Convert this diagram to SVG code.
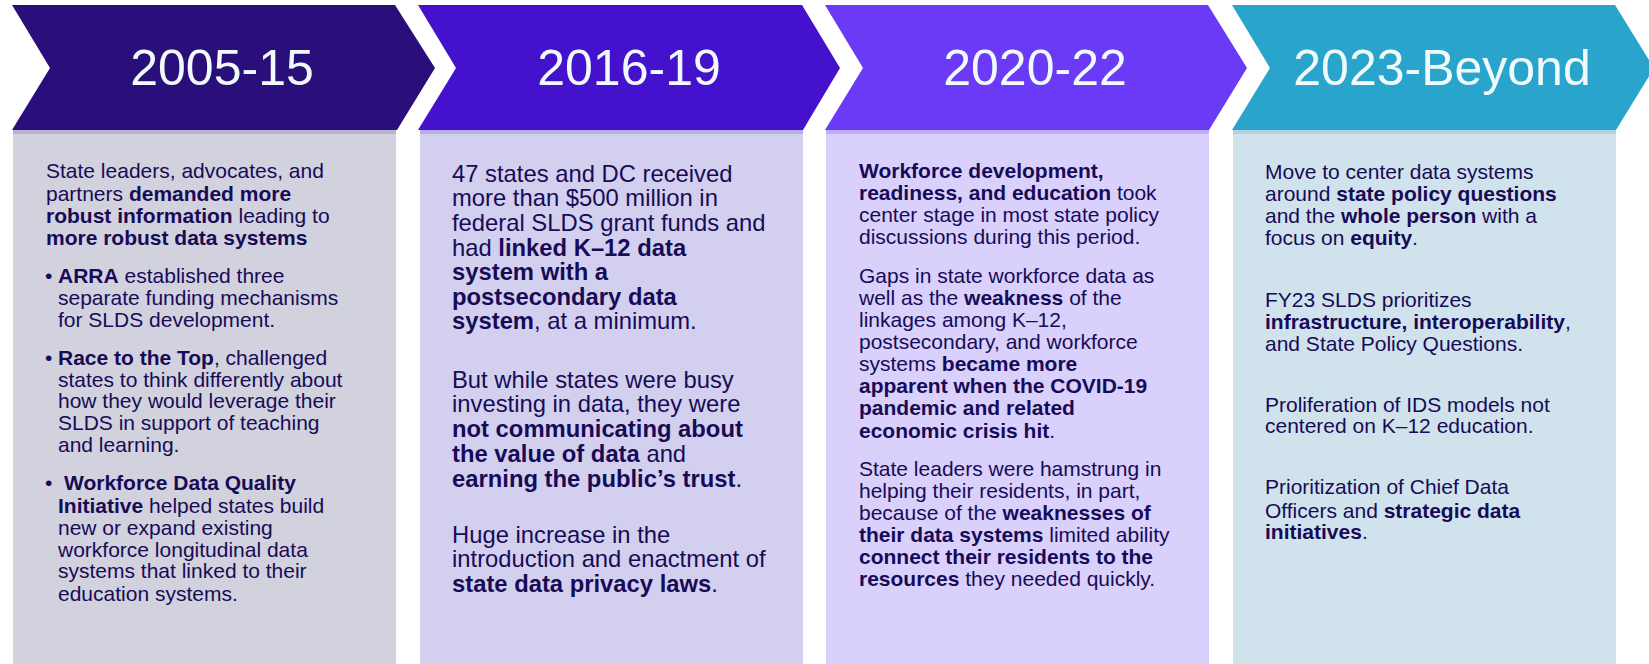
<svg xmlns="http://www.w3.org/2000/svg" width="1649" height="664" viewBox="0 0 1649 664">
<style>
.hd{font-family:"Liberation Sans",Arial,sans-serif;font-size:50px;fill:#F0FAFA;text-anchor:middle}
.t{font-family:"Liberation Sans",Arial,sans-serif;font-size:21px;fill:#170B57}
.t2{font-family:"Liberation Sans",Arial,sans-serif;font-size:23.8px;fill:#170B57}
.b{font-weight:bold}
</style>
<rect width="1649" height="664" fill="#FFFFFF"/>
<g id="connectors"/>
<g id="col1">
<rect x="13" y="130" width="383" height="534" fill="#D2D1DE"/>
<rect x="13" y="129" width="383" height="5" fill="#B6B3CB"/>
<polygon points="12,5 395,5 435,68 397,130 12,130 50,68" fill="#2A0F7B"/>
<text class="hd" x="222" y="85">2005-15</text>
<text class="t" x="46" y="178">State leaders, advocates, and</text>
<text class="t" x="46" y="201">partners <tspan class="b">demanded more</tspan></text>
<text class="t" x="46" y="223"><tspan class="b">robust information</tspan> leading to</text>
<text class="t b" x="46" y="245">more robust data systems</text>
<text class="t" x="45" y="283">•</text>
<text class="t" x="58" y="283"><tspan class="b">ARRA</tspan> established three</text>
<text class="t" x="58" y="305">separate funding mechanisms</text>
<text class="t" x="58" y="327">for SLDS development.</text>
<text class="t" x="45" y="365">•</text>
<text class="t" x="58" y="365"><tspan class="b">Race to the Top</tspan>, challenged</text>
<text class="t" x="58" y="387">states to think differently about</text>
<text class="t" x="58" y="408">how they would leverage their</text>
<text class="t" x="58" y="430">SLDS in support of teaching</text>
<text class="t" x="58" y="452">and learning.</text>
<text class="t" x="45" y="490">•</text>
<text class="t b" x="64" y="490">Workforce Data Quality</text>
<text class="t" x="58" y="513"><tspan class="b">Initiative</tspan> helped states build</text>
<text class="t" x="58" y="535">new or expand existing</text>
<text class="t" x="58" y="557">workforce longitudinal data</text>
<text class="t" x="58" y="578">systems that linked to their</text>
<text class="t" x="58" y="601">education systems.</text>
</g>
<g id="col2">
<rect x="420" y="130" width="383" height="534" fill="#D3CFEE"/>
<rect x="420" y="129" width="383" height="5" fill="#B8AEE8"/>
<polygon points="418,5 802,5 840,68 803,130 418,130 456,68" fill="#4411CC"/>
<text class="hd" x="629" y="85">2016-19</text>
<text class="t2" x="452" y="182">47 states and DC received</text>
<text class="t2" x="452" y="206">more than $500 million in</text>
<text class="t2" x="452" y="231">federal SLDS grant funds and</text>
<text class="t2" x="452" y="256">had <tspan class="b">linked K–12 data</tspan></text>
<text class="t2 b" x="452" y="280">system with a</text>
<text class="t2 b" x="452" y="305">postsecondary data</text>
<text class="t2" x="452" y="329"><tspan class="b">system</tspan>, at a minimum.</text>
<text class="t2" x="452" y="388">But while states were busy</text>
<text class="t2" x="452" y="412">investing in data, they were</text>
<text class="t2 b" x="452" y="437">not communicating about</text>
<text class="t2" x="452" y="462"><tspan class="b">the value of data</tspan> and</text>
<text class="t2" x="452" y="487"><tspan class="b">earning the public’s trust</tspan>.</text>
<text class="t2" x="452" y="543">Huge increase in the</text>
<text class="t2" x="452" y="567">introduction and enactment of</text>
<text class="t2" x="452" y="592"><tspan class="b">state data privacy laws</tspan>.</text>
</g>
<g id="col3">
<rect x="826" y="130" width="383" height="534" fill="#D9D0FB"/>
<rect x="826" y="129" width="383" height="5" fill="#BDAEF6"/>
<polygon points="825,5 1208,5 1247,68 1209,130 825,130 863,68" fill="#6A3AF6"/>
<text class="hd" x="1035" y="85">2020-22</text>
<text class="t b" x="859" y="178">Workforce development,</text>
<text class="t" x="859" y="200"><tspan class="b">readiness, and education</tspan> took</text>
<text class="t" x="859" y="222">center stage in most state policy</text>
<text class="t" x="859" y="244">discussions during this period.</text>
<text class="t" x="859" y="283">Gaps in state workforce data as</text>
<text class="t" x="859" y="305">well as the <tspan class="b">weakness</tspan> of the</text>
<text class="t" x="859" y="327">linkages among K–12,</text>
<text class="t" x="859" y="349">postsecondary, and workforce</text>
<text class="t" x="859" y="371">systems <tspan class="b">became more</tspan></text>
<text class="t b" x="859" y="393">apparent when the COVID-19</text>
<text class="t b" x="859" y="415">pandemic and related</text>
<text class="t" x="859" y="438"><tspan class="b">economic crisis hit</tspan>.</text>
<text class="t" x="859" y="476">State leaders were hamstrung in</text>
<text class="t" x="859" y="498">helping their residents, in part,</text>
<text class="t" x="859" y="520">because of the <tspan class="b">weaknesses of</tspan></text>
<text class="t" x="859" y="542"><tspan class="b">their data systems</tspan> limited ability</text>
<text class="t b" x="859" y="564">connect their residents to the</text>
<text class="t" x="859" y="586"><tspan class="b">resources</tspan> they needed quickly.</text>
</g>
<g id="col4">
<rect x="1233" y="130" width="383" height="534" fill="#D0E2EC"/>
<rect x="1233" y="129" width="383" height="5" fill="#B4D3E2"/>
<polygon points="1232,5 1615,5 1654,68 1616,130 1232,130 1270,68" fill="#28A4CD"/>
<text class="hd" x="1442" y="85">2023-Beyond</text>
<text class="t" x="1265" y="179">Move to center data systems</text>
<text class="t" x="1265" y="201">around <tspan class="b">state policy questions</tspan></text>
<text class="t" x="1265" y="223">and the <tspan class="b">whole person</tspan> with a</text>
<text class="t" x="1265" y="245">focus on <tspan class="b">equity</tspan>.</text>
<text class="t" x="1265" y="307">FY23 SLDS prioritizes</text>
<text class="t" x="1265" y="329"><tspan class="b">infrastructure, interoperability</tspan>,</text>
<text class="t" x="1265" y="351">and State Policy Questions.</text>
<text class="t" x="1265" y="412">Proliferation of IDS models not</text>
<text class="t" x="1265" y="433">centered on K–12 education.</text>
<text class="t" x="1265" y="494">Prioritization of Chief Data</text>
<text class="t" x="1265" y="518">Officers and <tspan class="b">strategic data</tspan></text>
<text class="t" x="1265" y="539"><tspan class="b">initiatives</tspan>.</text>
</g>
</svg>
